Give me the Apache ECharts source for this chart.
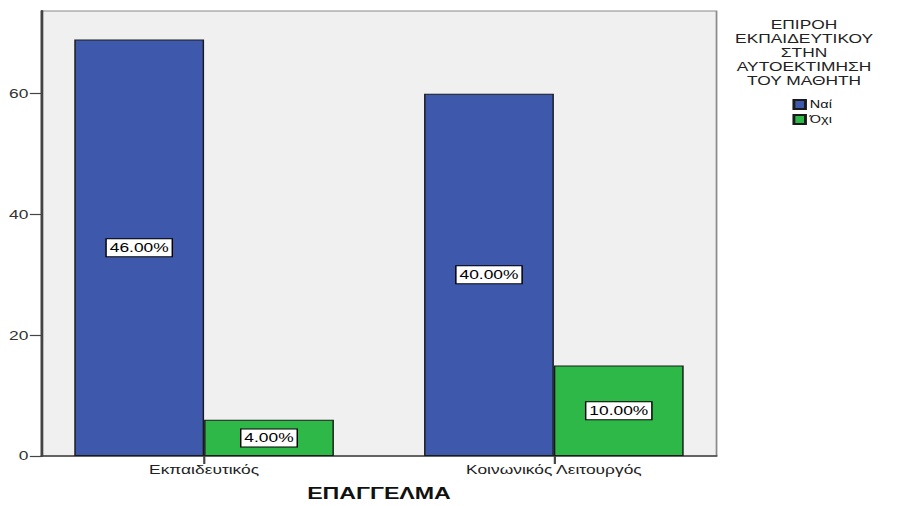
<!DOCTYPE html>
<html>
<head>
<meta charset="utf-8">
<script src="https://cdn.jsdelivr.net/npm/echarts@6/dist/echarts.min.js"></script>
<style>
  html, body { margin: 0; padding: 0; background: #ffffff; overflow: hidden; }
  /* the chart is laid out in a narrower box and widened to fill the page */
  #chart { width: 624px; height: 506px; transform: scaleX(1.44872); transform-origin: 0 0; }
</style>
</head>
<body>
<div id="chart"></div>
<script>
// Professions on the horizontal axis
const categories = ['Εκπαιδευτικός', 'Κοινωνικός Λειτουργός'];
// Counts of answers per profession
const yesValues = [69, 60];   // Ναί
const noValues = [6, 15];     // Όχι
const seriesNames = ['Ναί', 'Όχι'];
const yTicks = [0, 20, 40, 60];
const legendTitle = ['ΕΠΙΡΟΗ', 'ΕΚΠΑΙΔΕΥΤΙΚΟΥ', 'ΣΤΗΝ', 'ΑΥΤΟΕΚΤΙΜΗΣΗ', 'ΤΟΥ ΜΑΘΗΤΗ'];
const axisTitle = 'ΕΠΑΓΓΕΛΜΑ';

const total = yesValues.concat(noValues).reduce((a, b) => a + b, 0);
const pct = v => (v / total * 100).toFixed(2) + '%';
const catIndex = categories.map((_, i) => i);

const font = 'Arial, "Liberation Sans", sans-serif';
const barW = 89.6;

const labelStyle = {
  show: true,
  position: 'inside',
  formatter: p => pct(p.value[1]),
  color: '#000',
  fontFamily: font,
  fontSize: 12,
  backgroundColor: '#ffffff',
  borderColor: '#000',
  borderWidth: 1,
  padding: [3, 2, 2, 2]
};

const chart = echarts.init(document.getElementById('chart'), null, { renderer: 'svg' });
chart.setOption({
  animation: false,
  backgroundColor: '#ffffff',
  textStyle: { fontFamily: font },
  title: {
    text: legendTitle.join('\n'),
    left: 555,
    top: 18,
    textAlign: 'center',
    padding: 0,
    textStyle: { fontSize: 12, lineHeight: 14, fontWeight: 'normal', color: '#222', fontFamily: font }
  },
  legend: {
    orient: 'vertical',
    left: 547,
    top: 99,
    padding: 0,
    itemWidth: 8,
    itemHeight: 9,
    itemGap: 4,
    icon: 'rect',
    textStyle: { fontSize: 10, color: '#111', fontFamily: font, padding: [0, 0, 0, -2] },
    data: seriesNames
  },
  grid: {
    left: 28.6,
    right: 129.4,
    top: 11,
    bottom: 49.5,
    show: true,
    backgroundColor: '#f0f0f0',
    borderColor: '#8a8a8a',
    borderWidth: 1.2
  },
  xAxis: {
    type: 'value',
    min: -0.465,
    max: 1.465,
    name: axisTitle,
    nameLocation: 'middle',
    nameGap: 29,
    nameTextStyle: { fontSize: 16, fontWeight: 'bold', color: '#111', fontFamily: font },
    splitLine: { show: false },
    axisLine: { show: true, onZero: false, lineStyle: { color: '#444', width: 1.5 } },
    axisTick: { show: true, length: 8, customValues: catIndex, lineStyle: { color: '#444', width: 1.5 } },
    axisLabel: {
      customValues: catIndex,
      formatter: v => categories[Math.round(v)] || '',
      margin: 8,
      fontSize: 12,
      color: '#222',
      fontFamily: font
    }
  },
  yAxis: {
    type: 'value',
    min: 0,
    max: 73.7,
    splitLine: { show: false },
    axisLine: { show: true, onZero: false, lineStyle: { color: '#444', width: 1.8 } },
    axisTick: { show: true, length: 8, customValues: yTicks, lineStyle: { color: '#444', width: 1.2 } },
    axisLabel: {
      customValues: yTicks,
      margin: 9,
      fontSize: 12,
      color: '#333',
      fontFamily: font
    }
  },
  series: [
    {
      name: seriesNames[0],
      type: 'bar',
      barWidth: barW,
      barGap: '0%',
      data: yesValues.map((v, i) => [i, v]),
      itemStyle: { color: '#3e58ac', borderColor: '#1a1a1a', borderWidth: 1 },
      label: labelStyle
    },
    {
      name: seriesNames[1],
      type: 'bar',
      barWidth: barW,
      barGap: '0%',
      data: noValues.map((v, i) => [i, v]),
      itemStyle: { color: '#2eb848', borderColor: '#1a1a1a', borderWidth: 1 },
      label: labelStyle
    }
  ]
});
</script>
</body>
</html>
